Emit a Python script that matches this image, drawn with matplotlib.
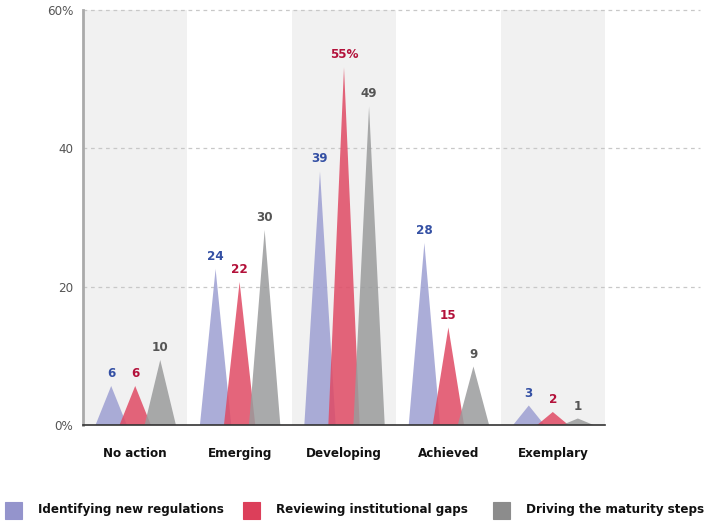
import matplotlib.pyplot as plt
from matplotlib.patches import Polygon, Rectangle

# Data
categories = ["No action", "Emerging", "Developing", "Achieved", "Exemplary"]
series_names = ["Identifying new regulations", "Reviewing institutional gaps", "Driving the maturity steps"]
identifying = [6, 24, 39, 28, 3]
reviewing = [6, 22, 55, 15, 2]
driving = [10, 30, 49, 9, 1]
yticks = [0, 20, 40, 60]
ytick_labels = ["0%", "20", "40", "60%"]

fills = ["#9d9fd2", "#e04a64", "#9a9b9c"]
label_colors = ["#3450a4", "#b3113a", "#555555"]
legend_colors = ["#9494cc", "#dc3f5a", "#8c8c8c"]
offsets = [-0.23, 0.0, 0.24]
half_w = 0.15
tip_scale = 0.94  # the peaks in the reference sit a little under their value

plt.rcParams['font.family'] = ['DejaVu Sans']
plt.rcParams['font.stretch'] = 'condensed'

fig = plt.figure(figsize=(7.06, 5.28), dpi=100)
ax = fig.add_axes([83 / 706, 1 - 425 / 528, 522 / 706, 415 / 528])
ax.set_xlim(-0.5, len(categories) - 0.5)
ax.set_ylim(0, 60)

# alternating background bands
for i in range(len(categories)):
    if i % 2 == 0:
        ax.axvspan(i - 0.5, i + 0.5, ymin=0, ymax=1, color="#f1f1f1", zorder=0, lw=0)

# dashed grid lines that run past the plot to the right
for y in yticks[1:]:
    ax.axhline(y, xmin=0, xmax=(700 - 83) / 522, color="#c8c8c8", lw=0.9,
               ls=(0, (3, 3)), clip_on=False, zorder=1)

all_series = [identifying, reviewing, driving]
for s, values in enumerate(all_series):
    for i, v in enumerate(values):
        cx = i + offsets[s]
        top = v * tip_scale
        tri = Polygon([(cx - half_w, 0), (cx, top), (cx + half_w, 0)], closed=True,
                      facecolor=fills[s], edgecolor="none", alpha=0.85, zorder=2 + s)
        ax.add_patch(tri)
        txt = f"{v}%" if (s == 1 and i == 2) else f"{v}"
        ax.text(cx, top + 1.8, txt, ha="center", va="center", color=label_colors[s],
                fontsize=9.5, fontweight="bold", zorder=6)

for sp in ["top", "right"]:
    ax.spines[sp].set_visible(False)
ax.spines["left"].set_color("#aaaaaa")
ax.spines["left"].set_linewidth(2)
ax.spines["bottom"].set_color("#333333")
ax.spines["bottom"].set_linewidth(1.2)
ax.spines["bottom"].set_zorder(7)

ax.set_yticks(yticks)
ax.set_yticklabels(ytick_labels, color="#555555", fontsize=9.5)
ax.set_xticks(range(len(categories)))
ax.set_xticklabels(categories, fontsize=9.5, fontweight="bold", color="#111111")
ax.tick_params(axis="both", length=0)
ax.tick_params(axis="x", pad=16)
ax.tick_params(axis="y", pad=7)

# legend drawn by hand along the bottom
leg_x = [5, 243, 493]
for k, name in enumerate(series_names):
    x0 = leg_x[k] / 706
    fig.add_artist(Rectangle((x0, 1 - 519 / 528), 17 / 706, 17 / 528,
                             transform=fig.transFigure, facecolor=legend_colors[k],
                             edgecolor=legend_colors[k], lw=0.8))
    fig.text(x0 + 33 / 706, 1 - 510 / 528, name, fontsize=9.5, fontweight="bold",
             color="#111111", va="center", ha="left")

fig.savefig("out.png", dpi=100)
